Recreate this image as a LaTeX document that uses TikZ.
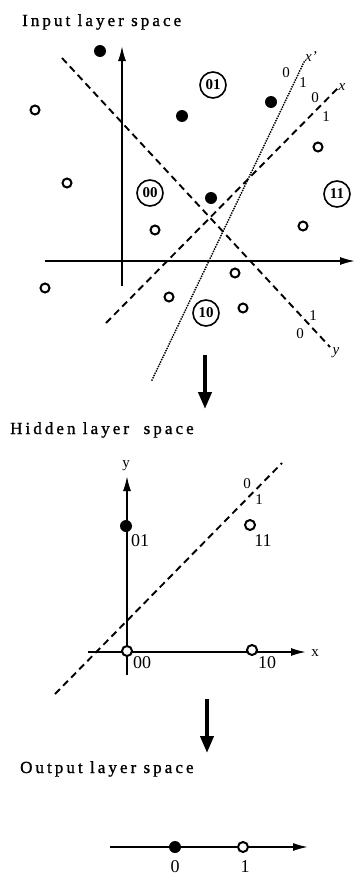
\documentclass[tikz,border=0pt]{standalone}
\usepackage{fontspec}
\setmainfont{Liberation Serif}
\newfontfamily\spcfont[LetterSpace=18,FakeBold=1.2]{Liberation Serif}
\usetikzlibrary{arrows.meta}

\begin{document}
\begin{tikzpicture}[x=1pt,y=-1pt,
  ax/.style={line width=1.7pt,-{Latex[length=15pt,width=8pt]}},
  big/.style={line width=4pt,-{Triangle[length=17pt,width=13pt]}},
  dsh/.style={line width=1.9pt,dash pattern=on 7pt off 4.5pt},
  dts/.style={line width=2pt,line cap=round,dash pattern=on 0pt off 2.5pt},
  fd/.style={circle,fill,inner sep=0pt,minimum size=12pt},
  od/.style={circle,draw,fill=white,line width=2pt,inner sep=0pt,minimum size=9pt},
  cl/.style={circle,draw,fill=white,line width=1.6pt,inner sep=0pt,minimum size=26pt,font=\fontsize{15}{15}\selectfont\bfseries},
  hd/.style={anchor=base west,inner sep=0pt,font=\spcfont\fontsize{17}{17}\selectfont},
  lb/.style={inner sep=0pt,font=\fontsize{15}{15}\selectfont},
  lv/.style={inner sep=0pt,font=\fontsize{15}{15}\selectfont\itshape},
  lh/.style={inner sep=0pt,font=\fontsize{18}{18}\selectfont}]
\useasboundingbox (0,0) rectangle (356,878);
% input layer
\node[hd] (tin) at (22,26) {Input layer space};
\coordinate (vb) at (122,286); \coordinate (vt) at (122,46);
\coordinate (hl) at (45,261);  \coordinate (hr) at (355,261);
\draw[ax] (vb) -- (vt);
\draw[ax] (hl) -- (hr);
\coordinate (ya) at (62,58);   \coordinate (yb) at (330,347);
\coordinate (xa) at (106,323); \coordinate (xb) at (338,88);
\coordinate (pa) at (152,380); \coordinate (pb) at (305,60);
\draw[dsh] (ya) -- (yb);
\draw[dsh] (xa) -- (xb);
\draw[dts] (pa) -- (pb);
\node[lv] (lxp) at (311,57) {x'};
\node[lv] (lx)  at (342,87) {x};
\node[lv] (ly)  at (336,353) {y};
\foreach \n/\t/\x/\y in {p0/0/286/73,p1/1/303/83,x0/0/315/98,x1/1/326/117,y1/1/313/316,y0/0/300/334}
  \node[lb] (\n) at (\x,\y) {\t};
\foreach \n/\x/\y in {f1/100/51,f2/182/116,f3/271/102,f4/211/198}
  \node[fd] (\n) at (\x,\y) {};
\foreach \n/\x/\y in {o1/35/110,o2/67/183,o3/318/147,o4/155/230,o5/303/226,o6/235/273,o7/45/288,o8/169/297,o9/243/308}
  \node[od] (\n) at (\x,\y) {};
\foreach \n/\x/\y in {01/213/85,00/150/193,11/337/194,10/206/313}
  \node[cl] (c\n) at (\x,\y) {\n};
% first step
\coordinate (a1s) at (205,355); \coordinate (a1e) at (205,409);
\draw[big] (a1s) -- (a1e);
% hidden layer
\node[hd] (thid) at (10,434) {Hidden layer\ \ space};
\coordinate (hvb) at (127,675); \coordinate (hvt) at (127,476);
\coordinate (hhl) at (88,652);  \coordinate (hhr) at (306,652);
\draw[ax] (hvb) -- (hvt);
\draw[ax] (hhl) -- (hhr);
\node[lb] (hy) at (126,466) {y};
\node[lb] (hx) at (315,653) {x};
\coordinate (ha) at (55,694); \coordinate (hb) at (282,463);
\draw[dsh] (ha) -- (hb);
\node[lb] (h0) at (247,484) {0};
\node[lb] (h1) at (259,500) {1};
\node[fd] (h01) at (126,526) {};
\node[od,minimum size=10pt] (h11) at (250,525) {};
\node[od,minimum size=10pt] (h00) at (127,651) {};
\node[od,minimum size=10pt] (h10) at (252,650) {};
\foreach \n/\x/\y in {01/140/541,11/263/541,00/142/663,10/267/663}
  \node[lh] (l\n) at (\x,\y) {\n};
% second step
\coordinate (a2s) at (207,699); \coordinate (a2e) at (207,753);
\draw[big] (a2s) -- (a2e);
% output layer
\node[hd] (tout) at (20,773) {Output layer space};
\coordinate (ol) at (110,847); \coordinate (or) at (308,847);
\draw[ax] (ol) -- (or);
\node[fd] (q0) at (175,847) {};
\node[od,minimum size=10pt] (q1) at (243,847) {};
\node[lh] (lq0) at (175,867) {0};
\node[lh] (lq1) at (245,867) {1};
\end{tikzpicture}
\end{document}
